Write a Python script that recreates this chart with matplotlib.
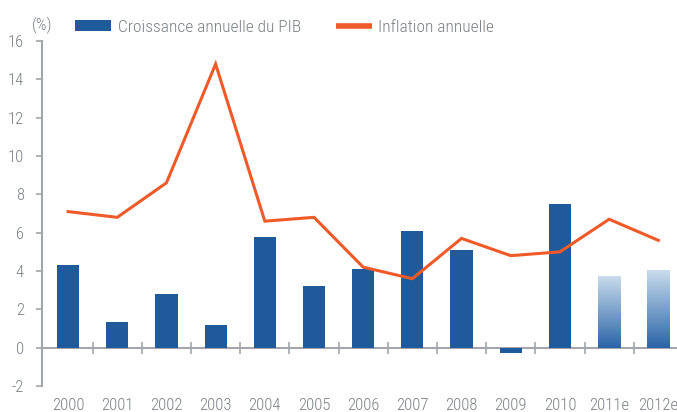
import matplotlib
matplotlib.use("Agg")
import matplotlib.pyplot as plt
import numpy as np
from matplotlib.lines import Line2D
from matplotlib.patches import Patch
from matplotlib.colors import LinearSegmentedColormap

years = ["2000", "2001", "2002", "2003", "2004", "2005", "2006", "2007",
         "2008", "2009", "2010", "2011e", "2012e"]
gdp_growth = [4.3, 1.35, 2.8, 1.2, 5.8, 3.2, 4.1, 6.1, 5.1, -0.3, 7.5, 3.75, 4.05]
inflation = [7.1, 6.8, 8.6, 14.8, 6.6, 6.8, 4.2, 3.6, 5.7, 4.8, 5.0, 6.7, 5.6]
estimated = [False] * 11 + [True, True]
yticks = [-2, 0, 2, 4, 6, 8, 10, 12, 14, 16]

BLUE = "#1f5a9b"
ORANGE = "#f05a28"
AXIS = "#a3a7ac"
TEXT = "#7a7f86"

plt.rcParams["font.family"] = ["Roboto Condensed", "Barlow Condensed", "Roboto", "DejaVu Sans"]
plt.rcParams["font.weight"] = "light"

fig = plt.figure(figsize=(6.77, 4.12), dpi=100)
ax = fig.add_axes([42 / 677, 26 / 412, 1 - 42 / 677, 345 / 412])

x = np.arange(len(years))
bars = ax.bar(x, gdp_growth, width=0.45, color=BLUE, zorder=2)

grad = np.linspace(0, 1, 256).reshape(-1, 1)
cmap = LinearSegmentedColormap.from_list("g", ["#2a64a6", "#c8dcec"])
for b, est in zip(bars, estimated):
    if est:
        b.set_facecolor("none")
        x0, y0 = b.get_x(), b.get_y()
        w, h = b.get_width(), b.get_height()
        im = ax.imshow(grad, extent=[x0, x0 + w, y0, y0 + h], origin="lower",
                       cmap=cmap, aspect="auto", zorder=2)
        im.set_clip_path(b)

ax.plot(x, inflation, color=ORANGE, lw=2.2, zorder=3, solid_joinstyle="miter")

ax.set_xlim(-0.53, 12.38)
ax.set_ylim(-2, 16)
ax.set_yticks(yticks)
ax.set_yticklabels([str(v) for v in yticks])

ax.spines["top"].set_visible(False)
ax.spines["right"].set_visible(False)
ax.spines["left"].set_color(AXIS)
ax.spines["left"].set_linewidth(1.5)
ax.spines["bottom"].set_position(("data", 0))
ax.spines["bottom"].set_color(AXIS)
ax.spines["bottom"].set_linewidth(1.5)
ax.spines["bottom"].set_zorder(1)

ax.set_xticks(x)
ax.set_xticklabels(years)
ax.set_xticks(np.arange(len(years) - 1) + 0.5, minor=True)
ax.tick_params(axis="x", which="major", length=0, pad=36, labelsize=12, labelcolor=TEXT)
ax.tick_params(axis="x", which="minor", direction="inout", length=8, width=1.2, color=AXIS)
ax.tick_params(axis="y", which="major", direction="out", length=4, width=1.2, color=AXIS,
               pad=9, labelsize=12, labelcolor=TEXT)

fig.text(32 / 677, 1 - 25 / 412, "(%)", fontsize=12, color=TEXT, va="center", ha="left")

handles = [Patch(facecolor=BLUE, edgecolor="none"),
           Line2D([0], [0], color=ORANGE, lw=4, solid_capstyle="butt")]
leg = fig.legend(handles, ["Croissance annuelle du PIB", "Inflation annuelle"],
                 loc="center left", bbox_to_anchor=(75 / 677, 1 - 27 / 412), ncol=2,
                 frameon=False, fontsize=12.5, handlelength=2.1, handleheight=0.65,
                 handletextpad=0.35, columnspacing=2.0, borderaxespad=0, borderpad=0)
for t in leg.get_texts():
    t.set_color(TEXT)

fig.savefig("out.png", dpi=100)
